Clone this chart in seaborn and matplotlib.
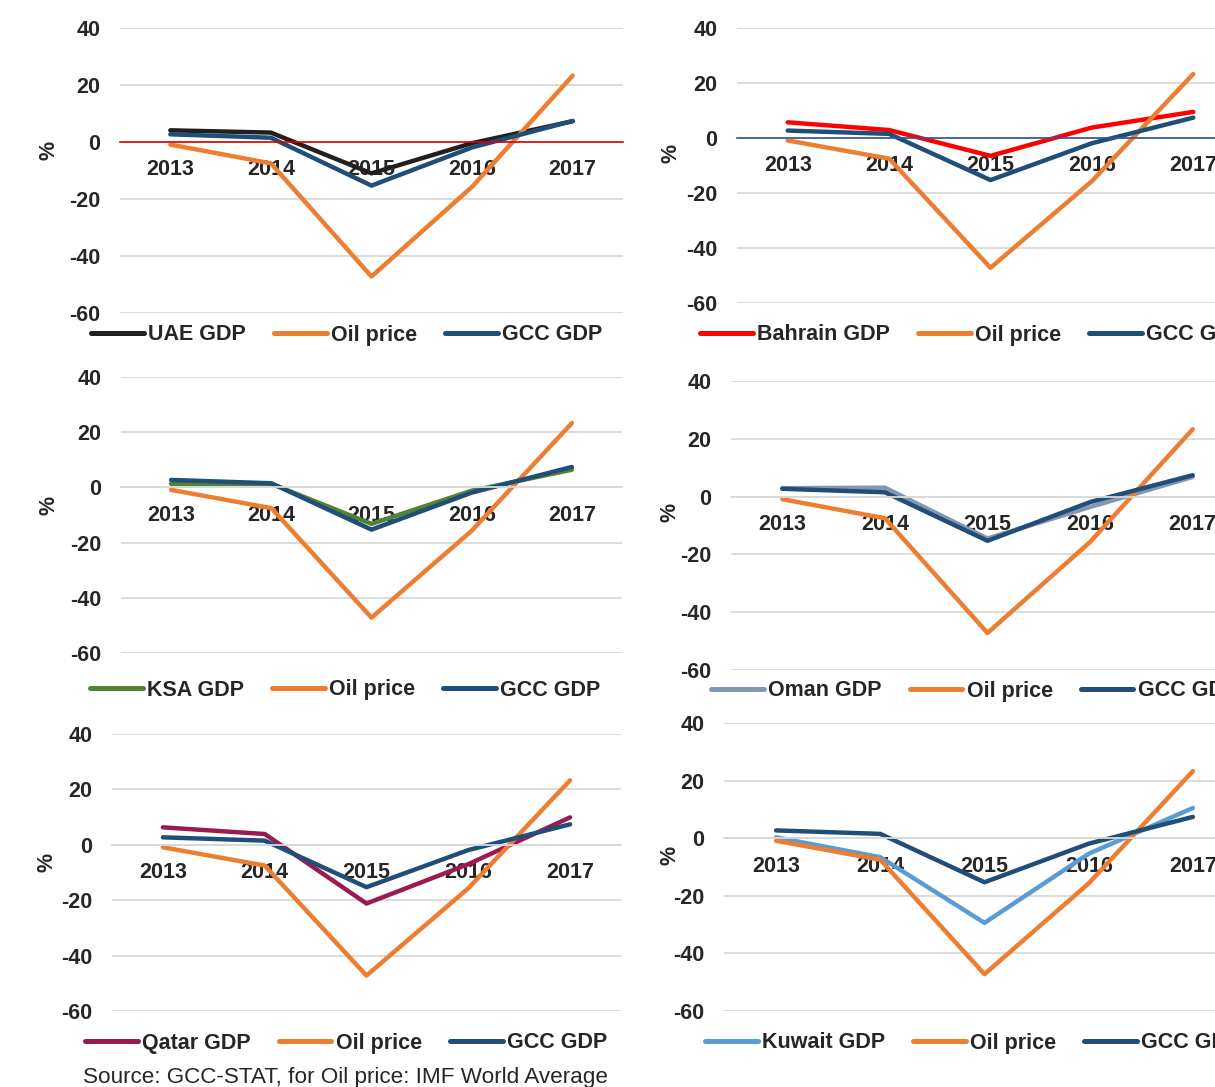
import matplotlib
matplotlib.use("Agg")
import matplotlib.pyplot as plt
import seaborn as sns
import pandas as pd

# ---- data (annual % change) ----
years = [2013, 2014, 2015, 2016, 2017]
oil_price = [-0.9, -7.5, -47.2, -15.7, 23.3]
gcc_gdp = [2.7, 1.5, -15.3, -1.9, 7.4]

uae_gdp = [4.1, 3.3, -11.0, -0.4, 7.3]
bahrain_gdp = [5.7, 2.9, -6.5, 3.8, 9.5]
ksa_gdp = [1.3, 1.3, -13.2, -1.2, 6.4]
oman_gdp = [2.9, 3.1, -14.5, -3.6, 6.8]
qatar_gdp = [6.3, 3.9, -21.2, -7.0, 9.9]
kuwait_gdp = [0.3, -6.6, -29.4, -5.4, 10.5]

y_ticks = [-60, -40, -20, 0, 20, 40]
source_note = "Source: GCC-STAT, for Oil price: IMF World Average"

OIL_C = "#ED7D31"
GCC_C = "#1F4E79"
TEXT_C = "#262626"
GRID_C = "#D9D9D9"

W, H = 1215, 1087
sns.set_theme(style="white")
plt.rcParams["font.family"] = ["Liberation Sans", "DejaVu Sans"]
fig = plt.figure(figsize=(W / 100, H / 100), dpi=100)


def px_box(left, right, top, bottom):
    return [left / W, 1 - bottom / H, (right - left) / W, (bottom - top) / H]


# name, values, colour, plot box (px), zero-line colour, legend anchor (px), "%" anchor (px)
panels = [
    ("UAE GDP", uae_gdp, "#231F20", (120, 623, 28, 313), "#E00000", (91, 335), (49, 150)),
    ("Bahrain GDP", bahrain_gdp, "#FF0000", (737, 1244, 28, 303), "#2F5597", (700, 335), (671, 153)),
    ("KSA GDP", ksa_gdp, "#548235", (121, 622, 377, 653), None, (90, 690), (49, 505)),
    ("Oman GDP", oman_gdp, "#8497B0", (731, 1244, 381, 670), None, (711, 691), (670, 512)),
    ("Qatar GDP", qatar_gdp, "#9B1B50", (112, 621, 734, 1011), None, (85, 1043), (47, 862)),
    ("Kuwait GDP", kuwait_gdp, "#5B9BD5", (724, 1245, 723, 1011), None, (705, 1043), (670, 855)),
]

FS = 15.5

for name, vals, color, box, zero_c, leg_xy, pct_xy in panels:
    ax = fig.add_axes(px_box(*box))
    df = pd.DataFrame({
        "year": years * 3,
        "value": list(vals) + oil_price + gcc_gdp,
        "series": [name] * 5 + ["Oil price"] * 5 + ["GCC GDP"] * 5,
    })
    sns.lineplot(
        data=df, x="year", y="value", hue="series",
        hue_order=[name, "Oil price", "GCC GDP"],
        palette={name: color, "Oil price": OIL_C, "GCC GDP": GCC_C},
        linewidth=3.2, sort=False, ax=ax, legend=True,
        solid_capstyle="round", solid_joinstyle="round",
    )
    ax.set_xlim(years[0] - 0.5, years[-1] + 0.5)
    ax.set_ylim(-60, 40)
    ax.set_yticks(y_ticks)
    ax.set_yticklabels([str(t) for t in y_ticks])
    ax.set_xticks(years)
    ax.set_xticklabels([str(y) for y in years])
    ax.set_axisbelow(True)
    ax.grid(axis="y", color=GRID_C, linewidth=1.3)
    ax.grid(axis="x", visible=False)
    for s in ["top", "right", "left"]:
        ax.spines[s].set_visible(False)
    ax.spines["bottom"].set_position(("data", 0))
    if zero_c:
        ax.spines["bottom"].set_color(zero_c)
        ax.spines["bottom"].set_linewidth(1.2)
    else:
        ax.spines["bottom"].set_color(GRID_C)
        ax.spines["bottom"].set_linewidth(1.3)
    ax.tick_params(axis="both", length=0, labelsize=FS, labelcolor=TEXT_C)
    ax.tick_params(axis="x", pad=12.5)
    ax.tick_params(axis="y", pad=14)
    for lab in ax.get_xticklabels() + ax.get_yticklabels():
        lab.set_fontweight("bold")
    ax.set_xlabel("")
    ax.set_ylabel("%", fontsize=FS, fontweight="bold", color=TEXT_C)
    ax.yaxis.set_label_coords(pct_xy[0] / W, 1 - pct_xy[1] / H, transform=fig.transFigure)
    ax.yaxis.label.set_verticalalignment("center")

    handles, labels = ax.get_legend_handles_labels()
    for h in handles:
        h.set_linewidth(3.6)
        h.set_solid_capstyle("round")
    leg = ax.legend(
        handles, labels, loc="center left",
        bbox_to_anchor=(leg_xy[0] / W, 1 - leg_xy[1] / H),
        bbox_transform=fig.transFigure, ncol=3, frameon=False,
        fontsize=FS, handlelength=2.45, handletextpad=0.2,
        columnspacing=1.3, borderpad=0, borderaxespad=0,
    )
    for t in leg.get_texts():
        t.set_fontweight("bold")
        t.set_color(TEXT_C)

fig.text(83 / W, 1 - 1077 / H, source_note, fontsize=16.2, color=TEXT_C,
         ha="left", va="center")

fig.savefig("out.png", dpi=100)
